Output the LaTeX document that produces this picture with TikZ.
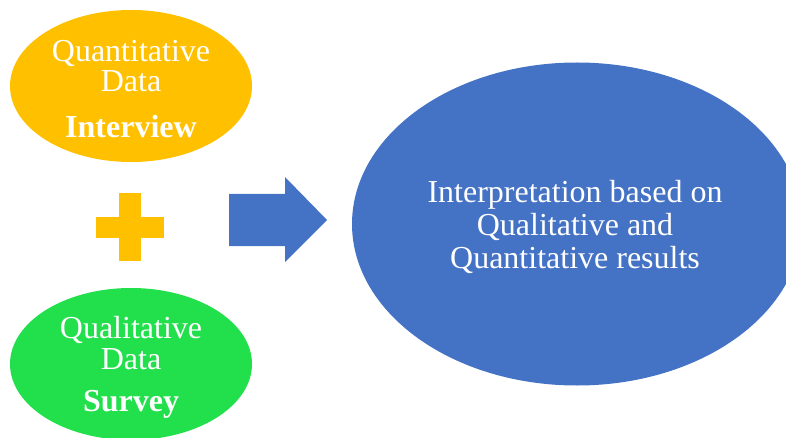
\documentclass[tikz,border=0pt]{standalone}
\usepackage{fontspec}
\setmainfont{Liberation Serif}
\usetikzlibrary{shapes.geometric}

\definecolor{gold}{HTML}{FFC000}
\definecolor{leaf}{HTML}{22DF4C}
\definecolor{steel}{HTML}{4472C4}

\tikzset{
    blob/.style={ellipse, inner sep=0pt, draw=none},
    label/.style={text=white, align=center, font=\fontsize{32}{30.5}\selectfont}
}

\begin{document}
\begin{tikzpicture}[x=1pt, y=-1pt]
    % Fix the page size
    \useasboundingbox (0,0) rectangle (786,438);
    \clip (0,0) rectangle (786,438);

    % Draw the two data ellipses
    \node[blob, fill=gold, minimum width=242pt, minimum height=152pt] (quant) at (131,86) {};
    \node[blob, fill=leaf, minimum width=242pt, minimum height=152pt] (qual) at (131,364) {};

    % Add their labels
    \node[label] (quanttext) at (131,66) {Quantitative\\Data};
    \node[label] (interview) at (131,127) {\textbf{Interview}};
    \node[label] (qualtext) at (131,343) {Qualitative\\Data};
    \node[label] (survey) at (131,404) {\textbf{Survey}};

    % Draw the plus sign
    \fill[gold] (96,217) rectangle (164,238);
    \fill[gold] (119,193) rectangle (141,261);

    % Draw the block arrow
    \fill[steel] (229,194) -- (285,194) -- (285,177) -- (327,220)
        -- (285,262) -- (285,246) -- (229,246) -- cycle;

    % Draw the result ellipse
    \node[blob, fill=steel, minimum width=450pt, minimum height=323pt] (result) at (577,224) {};
    \node[label, font=\fontsize{32}{33}\selectfont] (resulttext) at (575,227) {Interpretation based on\\Qualitative and\\Quantitative results};
\end{tikzpicture}
\end{document}
